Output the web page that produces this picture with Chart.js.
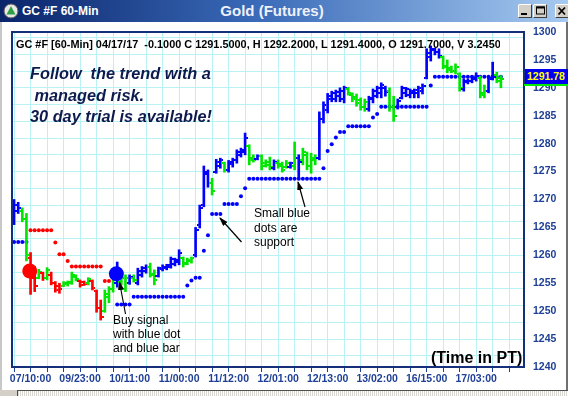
<!DOCTYPE html>
<html>
<head>
<meta charset="utf-8">
<script src="https://cdn.jsdelivr.net/npm/chart.js@4"></script>
<style>
  body { margin: 0; background: #fff; }
  #win { position: relative; width: 568px; height: 396px; overflow: hidden; background: #fff; font-family: Arial, "Liberation Sans", sans-serif; }
  #chart { position: absolute; left: 0; top: 0; }
  .abs { position: absolute; white-space: pre; }
  #titlebar { left: 0; top: 0; width: 568px; height: 22px; background: linear-gradient(to right, #0a246a 0%, #3a6ab8 45%, #a6caf0 100%); }
  #ttlLeft { left: 22px; top: 3px; font: bold 12px Arial; line-height: 16px; color: #fff; }
  #ttlMid { left: 200px; top: 2px; width: 144px; text-align: center; font: bold 15px Arial; line-height: 18px; color: #eef1fa; }
  #frame { left: 11px; top: 31px; width: 510px; height: 333px; border: 2px solid #14307a; }
  #hdr { left: 16px; top: 37px; width: 484px; overflow: hidden; font: bold 10.9px Arial; line-height: 14px; color: #000; }
  #promo { left: 30px; top: 63px; font: italic bold 16.3px Arial; line-height: 21.5px; color: #0d1a4d; }
  #buyTxt { left: 113px; top: 313px; font: 12px Arial; line-height: 14px; color: #000; }
  #supTxt { left: 254px; top: 206px; font: 12px Arial; line-height: 14.5px; color: #000; }
  #timeTxt { left: 431px; top: 349px; font: bold 16px Arial; line-height: 18px; color: #000; }
  #tag { left: 525px; top: 69px; width: 43px; height: 15px; background: #0000ee; color: #ffff00; font: bold 10.5px Arial; line-height: 15px; padding-left: 2px; box-sizing: border-box; }
  #tagLine { left: 524px; top: 84px; width: 44px; height: 2px; background: #00ee00; }
  #scroll { left: 0; top: 390px; width: 568px; height: 6px; border-top: 1px solid #505050; background: repeating-linear-gradient(90deg, #d8d6d0 0 1px, #ffffff 1px 2px); }
  #scrollL { left: 0; top: 390px; width: 17px; height: 7px; background: #d4d0c8; border-right: 1px solid #505050; }
  #edgeL { left: 0; top: 22px; width: 2px; height: 374px; background: #c8c8c8; }
  #edgeR { left: 566px; top: 22px; width: 2px; height: 374px; background: #707070; }
</style>
</head>
<body>
<div id="win">
  <canvas id="chart" width="568" height="396"></canvas>
  <div id="edgeL" class="abs"></div>
  <div id="edgeR" class="abs"></div>
  <div id="titlebar" class="abs"></div>
  <svg class="abs" style="left:3px;top:3px" width="16" height="16">
    <circle cx="8" cy="8" r="7" fill="#e8e8e8" stroke="#5a5a5a" stroke-width="1"/>
    <path d="M8,3 L12.5,11.5 L3.5,11.5 Z" fill="#2ea043"/>
  </svg>
  <div id="ttlLeft" class="abs">GC #F 60-Min</div>
  <div id="ttlMid" class="abs">Gold (Futures)</div>
  <svg class="abs" style="left:518px;top:4px" width="50" height="15">
    <rect x="0.5" y="0.5" width="13" height="13" fill="#d4d0c8" stroke="#404040"/>
    <path d="M0.5,13.5 V0.5 H13.5" fill="none" stroke="#fff"/>
    <rect x="3" y="9" width="6" height="2" fill="#000"/>
    <rect x="15.5" y="0.5" width="13" height="13" fill="#d4d0c8" stroke="#404040"/>
    <path d="M15.5,13.5 V0.5 H28.5" fill="none" stroke="#fff"/>
    <rect x="18.5" y="3" width="8" height="7" fill="none" stroke="#000" stroke-width="1"/>
    <rect x="18.5" y="2.5" width="8" height="2" fill="#000"/>
    <rect x="37.5" y="0.5" width="13" height="13" fill="#d4d0c8" stroke="#404040"/>
    <path d="M37.5,13.5 V0.5 H50.5" fill="none" stroke="#fff"/>
    <path d="M40.5,3.5 L47,10.5 M47,3.5 L40.5,10.5" stroke="#000" stroke-width="1.8"/>
  </svg>
  <div id="frame" class="abs"></div>
  <div id="hdr" class="abs">GC #F [60-Min] 04/17/17  -0.1000 C 1291.5000, H 1292.2000, L 1291.4000, O 1291.7000, V 3.2450K</div>
  <div id="promo" class="abs">Follow  the trend with a
 managed risk.
30 day trial is available!</div>
  <div id="buyTxt" class="abs">Buy signal
with blue dot
and blue bar</div>
  <div id="supTxt" class="abs">Small blue
dots are
support</div>
  <div id="timeTxt" class="abs">(Time in PT)</div>
  <div id="tag" class="abs">1291.78</div>
  <div id="tagLine" class="abs"></div>
  <svg class="abs" style="left:0;top:0" width="568" height="396">
    <defs>
      <marker id="ah" markerWidth="9" markerHeight="6" refX="8" refY="3" orient="auto" markerUnits="userSpaceOnUse">
        <path d="M0,0 L9,3 L0,6 Z" fill="#000"/>
      </marker>
    </defs>
    <line x1="125.5" y1="314" x2="119.5" y2="282" stroke="#000" stroke-width="1.2" marker-end="url(#ah)"/>
    <line x1="241.5" y1="242" x2="220" y2="218" stroke="#000" stroke-width="1.2" marker-end="url(#ah)"/>
    <line x1="305" y1="207" x2="298" y2="182" stroke="#000" stroke-width="1.2" marker-end="url(#ah)"/>
  </svg>
  <div id="scroll" class="abs"></div>
  <div id="scrollL" class="abs"></div>
</div>

<script>
// hourly bars, index 0 = 07/06:00
const xTickPos = [4, 16, 28, 40, 52, 64, 76, 88, 100, 112];
const xTickLabels = ['07/10:00', '09/23:00', '10/11:00', '11/00:00', '11/12:00',
                     '12/01:00', '12/13:00', '13/02:00', '16/15:00', '17/03:00'];

// b = blue (up), g = green (neutral), r = red (down)
const barSignal = ('bbggrrgrgr' + 'rrggggrrgr' + 'rrgggbggbg' + 'bbbggbbbbb' + 'bgggbbbbgb' +
                   'bgbbbbbggb' + 'gggbgggbgb' + 'ggggbbbbbb' + 'bgggggbbbb' + 'bggbbbbbbb' +
                   'bbbbgggggb' + 'bbbggbbgg').split('');

const open = [
  1267, 1268, 1268, 1266.5, 1259.5, 1256.5, 1256, 1256.8, 1256, 1256.5,
  1255, 1254.5, 1254.5, 1254.8, 1255, 1256.2, 1255.4, 1255.2, 1255, 1255.4,
  1253.6, 1250.6, 1250, 1252.5, 1254, 1255, 1255.2, 1254, 1255, 1256,
  1255, 1256.5, 1257.2, 1258, 1256.5, 1256.3, 1257.5, 1257.8, 1258, 1258.5,
  1258.8, 1259.5, 1258.6, 1259, 1260, 1265.5, 1269, 1274.5, 1273, 1275,
  1276, 1276.5, 1275.3, 1276.3, 1277, 1278, 1278.5, 1279.5, 1277.5, 1277.2,
  1277.8, 1276.5, 1276.8, 1275.6, 1276.6, 1276.3, 1275.8, 1275.9, 1276, 1277.5,
  1277, 1278, 1276, 1277, 1277.5, 1284.5, 1286, 1288, 1288, 1288.5,
  1288, 1289.8, 1288.8, 1288.3, 1287.8, 1286.5, 1286.2, 1288, 1288.5, 1289,
  1290, 1289.5, 1286.5, 1286.5, 1288.2, 1289, 1288.7, 1289, 1289, 1289.5,
  1291.8, 1295.5, 1296.8, 1296.5, 1295.5, 1294, 1293.5, 1293, 1292.5, 1289.8,
  1291, 1291.2, 1291.5, 1291.8, 1289, 1289.5, 1291.7, 1292.3, 1291.7
];
const high = [
  1270, 1269.5, 1268.5, 1267.5, 1260.5, 1258, 1257.5, 1257, 1257.8, 1257,
  1255.3, 1255, 1255.3, 1255.4, 1257, 1256.5, 1255.6, 1255.4, 1256, 1255.6,
  1253.8, 1252, 1253.8, 1254.4, 1256, 1258.8, 1256.5, 1256.5, 1256.5, 1256.5,
  1257.7, 1258, 1258.3, 1258.6, 1257.4, 1257.9, 1258.3, 1258.4, 1259.7, 1259.5,
  1261, 1259.7, 1259.5, 1259.7, 1265, 1269, 1276, 1275.3, 1273.8, 1277.2,
  1277.4, 1276.7, 1277, 1277.4, 1278.9, 1279.2, 1281.9, 1279.8, 1278, 1278,
  1278, 1277.1, 1277.6, 1277.1, 1277.1, 1276.7, 1277, 1276.7, 1280.3, 1278,
  1279.2, 1278.5, 1278.3, 1278, 1285.7, 1287.5, 1289, 1289.4, 1289.6, 1290,
  1290.3, 1290.1, 1289.1, 1288.9, 1288.2, 1288, 1288.5, 1289.8, 1290.3, 1290.9,
  1290.3, 1290, 1288.5, 1288, 1290.3, 1290.1, 1289.8, 1289.8, 1290.3, 1290.7,
  1297, 1297.5, 1297.1, 1297, 1295.7, 1295, 1293.9, 1294.3, 1292.7, 1291.6,
  1291.6, 1292.1, 1292.7, 1292.1, 1290.5, 1291.9, 1294.6, 1292.8, 1292.2
];
const low = [
  1265.5, 1267.5, 1266, 1259, 1253, 1253.5, 1255.8, 1255.5, 1255.6, 1254.7,
  1253.4, 1253.2, 1254.4, 1254.5, 1254.8, 1255.4, 1254.3, 1254.6, 1254.7, 1253.8,
  1249.8, 1248.4, 1249.8, 1251.5, 1253.4, 1254.3, 1254.7, 1253.5, 1254.8, 1255.2,
  1254.7, 1256.1, 1256.8, 1256.1, 1254.7, 1256.1, 1257.2, 1257.4, 1257.7, 1258.1,
  1258.3, 1257.9, 1258.3, 1258.6, 1259.7, 1264.9, 1268.7, 1272.2, 1270.8, 1274.7,
  1275.6, 1274.9, 1274.9, 1275.8, 1276.5, 1277.6, 1278, 1276.2, 1276.7, 1277.1,
  1275.3, 1275.8, 1275.3, 1275.3, 1275.6, 1274.9, 1275.6, 1275.6, 1275.3, 1273.9,
  1276.2, 1275.3, 1274.7, 1276.2, 1277.1, 1283.7, 1285.5, 1287.5, 1287.5, 1287.5,
  1287.3, 1288.7, 1287.5, 1286.7, 1286, 1285.8, 1285.8, 1287.3, 1288.2, 1288.2,
  1288.5, 1285.8, 1284, 1286.2, 1288, 1288.4, 1288.2, 1288.2, 1288.2, 1288.9,
  1291.6, 1294.8, 1295.9, 1295.3, 1293.4, 1292.7, 1292.7, 1292.5, 1289.4, 1289.4,
  1290.7, 1290.9, 1291.2, 1288.2, 1288.2, 1289.1, 1291.4, 1290.9, 1290
];
const close = [
  1269, 1268.5, 1266.5, 1260, 1256, 1254.5, 1257, 1256, 1257.3, 1255,
  1253.8, 1254, 1255, 1255.2, 1256.5, 1255.8, 1254.6, 1254.8, 1255.8, 1254.2,
  1250.5, 1249, 1253, 1254, 1255.5, 1257.5, 1256, 1256, 1256.2, 1255.5,
  1257.2, 1257.8, 1258, 1256.6, 1255.5, 1257.7, 1258, 1258.2, 1259.4, 1259.2,
  1260.5, 1258.5, 1259.2, 1259.5, 1264.5, 1268.5, 1275, 1273, 1271.5, 1276.8,
  1277, 1275.3, 1276.8, 1277, 1278.5, 1278.8, 1281, 1277, 1277, 1277.8,
  1276, 1276.2, 1275.8, 1276.8, 1276, 1275.2, 1276.5, 1276.5, 1277.5, 1276.8,
  1278.5, 1276, 1277.5, 1277.5, 1284.5, 1287, 1288.5, 1289, 1289.2, 1289.5,
  1290, 1289, 1288, 1287.3, 1286.5, 1287.5, 1288.2, 1289.5, 1290, 1290.5,
  1289.2, 1286.5, 1285, 1287.7, 1290, 1289.8, 1289.5, 1289.6, 1290, 1290.4,
  1296.2, 1297, 1296.5, 1295.7, 1293.8, 1293.2, 1293, 1293.8, 1290, 1291.2,
  1291.3, 1291.8, 1292.2, 1288.7, 1289.5, 1291.5, 1292, 1291.3, 1291.5
];

// small blue support dots, one per bar (null = none)
const support = [
  1262.4, 1262.4, 1262.4, 1262.4, null, null, null, null, null, null,
  null, null, null, null, null, null, null, null, null, null,
  null, null, null, null, null, 1251.2, 1251.2, 1251.2, 1251.2, 1252.6,
  1252.6, 1252.6, 1252.6, 1252.6, 1252.6, 1252.6, 1252.6, 1252.6, 1252.6, 1252.6,
  1252.6, 1252.6, 1254.6, 1255.5, 1256, 1256, 1260.8, 1263.6, 1267.4, 1267.4,
  1267.4, 1269.2, 1269.2, 1269.2, 1269.2, 1270.6, 1272, 1273.7, 1273.7, 1273.7,
  1273.7, 1273.7, 1273.7, 1273.7, 1273.7, 1273.7, 1273.7, 1273.7, 1273.7, 1273.7,
  1273.7, 1273.7, 1273.7, 1273.7, 1273.7, 1275.6, 1278.7, 1279.9, 1281.1, 1282.1,
  1282.1, 1283.1, 1283.1, 1283.1, 1283.1, 1283.1, 1283.1, 1284.7, 1285.3, 1286.6,
  1286.6, 1286.6, 1286.6, 1286.6, 1286.6, 1286.6, 1286.6, 1286.6, 1286.6, 1286.6,
  1286.6, 1290.4, 1292, 1292, 1292, 1292, 1292, 1292, 1292, 1292,
  1292, 1292, 1292, 1292, 1292, 1292, 1292, 1292, 1292
];
// small red resistance dots
const resist = [
  null, null, null, null, 1264.5, 1264.5, 1264.5, 1264.5, 1264.5, 1264.5,
  1262.3, 1260.2, 1260.2, 1259, 1258, 1258, 1258, 1258, 1258, 1258,
  1258, 1258, 1255.4, 1255.4
];

// big signal dots
const signalX = [3.8, 24.8];
const signalY = [1257.2, 1256.7];
const signalType = ['r', 'b'];

const colorOf = { b: '#0000ff', g: '#00e600', r: '#ff0000' };
const gridCol = 'rgb(185,242,244)';
const axisCol = '#1e3f95';

// little canvases used as point styles for the open (left) and close (right) ticks
function tickImage(color, side) {
  const c = document.createElement('canvas');
  c.width = 6; c.height = 2;
  const g = c.getContext('2d');
  g.fillStyle = color;
  g.fillRect(side === 'open' ? 0 : 4, 0, 2, 2);
  return c;
}
const openImg = {}, closeImg = {};
for (const k in colorOf) {
  openImg[k] = tickImage(colorOf[k], 'open');
  closeImg[k] = tickImage(colorOf[k], 'close');
}

const idx = open.map((v, i) => i);

new Chart(document.getElementById('chart'), {
  type: 'bar',
  data: {
    datasets: [
      {
        type: 'scatter', label: 'support', order: 6,
        data: support.map((v, i) => ({ x: i, y: v })).filter(p => p.y !== null),
        pointRadius: 2, pointBackgroundColor: '#0000ff', pointBorderWidth: 0
      },
      {
        type: 'scatter', label: 'resist', order: 6,
        data: resist.map((v, i) => ({ x: i, y: v })).filter(p => p.y !== null),
        pointRadius: 2, pointBackgroundColor: '#ff0000', pointBorderWidth: 0
      },
      {
        label: 'range', order: 4,
        data: idx.map(i => ({ x: i, y: [low[i], high[i]] })),
        backgroundColor: idx.map(i => colorOf[barSignal[i]]),
        barThickness: 2, borderWidth: 0
      },
      {
        type: 'scatter', label: 'open', order: 3,
        data: idx.map(i => ({ x: i, y: open[i] })),
        pointRadius: 3, pointStyle: idx.map(i => openImg[barSignal[i]])
      },
      {
        type: 'scatter', label: 'close', order: 3,
        data: idx.map(i => ({ x: i, y: close[i] })),
        pointRadius: 3, pointStyle: idx.map(i => closeImg[barSignal[i]])
      },
      {
        type: 'scatter', label: 'signal', order: 1,
        data: signalX.map((x, i) => ({ x: x, y: signalY[i] })),
        pointRadius: 7.5, pointBorderWidth: 0,
        pointBackgroundColor: signalType.map(t => colorOf[t])
      }
    ]
  },
  options: {
    responsive: false,
    animation: false,
    devicePixelRatio: 1,
    layout: { padding: { left: 12, top: 32, right: 0, bottom: 7 } },
    plugins: { legend: { display: false }, tooltip: { enabled: false } },
    scales: {
      x: {
        type: 'linear', min: -0.5, max: 123.6, offset: false,
        grid: { color: gridCol, tickColor: axisCol, tickLength: 5, offset: false },
        border: { display: false },
        ticks: {
          stepSize: 4, includeBounds: false, autoSkip: false, maxRotation: 0, minRotation: 0,
          padding: 1, color: axisCol, font: { family: 'Arial', size: 10.5, weight: 'bold' },
          callback: v => { const k = xTickPos.indexOf(v); return k < 0 ? '' : xTickLabels[k]; }
        },
        afterFit: s => { s.height = 22; }
      },
      y: {
        position: 'right', min: 1240, max: 1300,
        grid: { color: c => (c.tick && c.tick.value % 3 === 0) ? gridCol : 'rgba(0,0,0,0)', drawTicks: false },
        border: { display: false },
        ticks: {
          stepSize: 1, autoSkip: false, padding: 9, color: axisCol,
          font: { family: 'Arial', size: 10.5, weight: 'bold' },
          callback: v => (v % 5 === 0 ? v : '')
        },
        afterFit: s => { s.width = 44; }
      }
    }
  }
});
</script>
</body>
</html>
